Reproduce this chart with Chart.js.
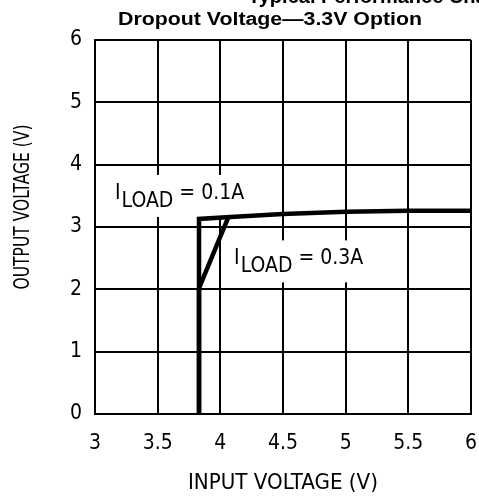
<!DOCTYPE html>
<html>
<head>
<meta charset="utf-8">
<script src="https://cdn.jsdelivr.net/npm/chart.js@4.4.1/dist/chart.umd.min.js"></script>
<style>
  html, body { margin: 0; padding: 0; background: #fff; }
  #wrap { width: 479px; height: 498px; }
</style>
</head>
<body>
<div id="wrap"><canvas id="dropoutChart" width="479" height="498"></canvas></div>
<script>
// values
var xTicks = [3, 3.5, 4, 4.5, 5, 5.5, 6];
var yTicks = [0, 1, 2, 3, 4, 5, 6];

var load01X = [3.83, 3.83, 4.08, 4.5, 5.0, 5.5, 6.0];
var load01Y = [0, 3.13, 3.16, 3.21, 3.245, 3.26, 3.26];

var load03X = [3.83, 3.83, 4.06];
var load03Y = [0, 2.02, 3.14];

var labels = [
  { x: 3.16, y: 3.45, sub: 'LOAD', rest: ' = 0.1A' },
  { x: 4.11, y: 2.4, sub: 'LOAD', rest: ' = 0.3A' }
];

var FONT = '"Liberation Sans Narrow", "DejaVu Sans Condensed", "Liberation Sans", sans-serif';

function pts(xs, ys) {
  return xs.map(function (x, i) { return { x: x, y: ys[i] }; });
}

// draw text centred at 0,0 squeezed/stretched to a given width
function fitText(c, txt, width) {
  var w = c.measureText(txt).width;
  c.scale(width / w, 1);
  c.textAlign = 'center';
  c.fillText(txt, 0, 0);
}

var extras = {
  id: 'extras',
  beforeDatasetsDraw: function (chart) {
    var c = chart.ctx, sx = chart.scales.x, sy = chart.scales.y;
    c.save();
    c.font = '21px ' + FONT;
    c.textAlign = 'left';
    c.textBaseline = 'alphabetic';
    labels.forEach(function (l) {
      var px = sx.getPixelForValue(l.x), py = sy.getPixelForValue(l.y);
      var w1 = c.measureText('I').width;
      var w2 = c.measureText(l.sub).width;
      var w3 = c.measureText(l.rest).width;
      c.fillStyle = '#fff';
      c.fillRect(px - 8, py - 24, w1 + w2 + w3 + 16, 42);
      c.fillStyle = '#000';
      c.fillText('I', px, py);
      c.fillText(l.sub, px + w1 + 1, py + 8);
      c.fillText(l.rest, px + w1 + 1 + w2, py);
    });
    c.restore();
  },
  afterDraw: function (chart) {
    var c = chart.ctx, a = chart.chartArea;
    c.fillStyle = '#000';
    c.textBaseline = 'alphabetic';
    // heading above, cut by the top edge
    c.save();
    c.textAlign = 'left';
    c.font = 'bold 20px "Liberation Sans", Arial, sans-serif';
    c.fillText('Typical Performance Characteristics', 248, 3);
    c.restore();
    // chart title
    c.save();
    c.translate(270, 25);
    c.font = 'bold 18px "Liberation Sans", Arial, sans-serif';
    fitText(c, 'Dropout Voltage\u20143.3V Option', 304);
    c.restore();
    // axis titles
    c.save();
    c.translate((a.left + a.right) / 2, 489);
    c.font = '22px ' + FONT;
    fitText(c, 'INPUT VOLTAGE (V)', 190);
    c.restore();
    c.save();
    c.translate(29, 207);
    c.rotate(-Math.PI / 2);
    c.font = '21px ' + FONT;
    fitText(c, 'OUTPUT VOLTAGE (V)', 165);
    c.restore();
  }
};

new Chart(document.getElementById('dropoutChart').getContext('2d'), {
  type: 'scatter',
  data: {
    datasets: [
      {
        label: 'ILOAD = 0.1A',
        data: pts(load01X, load01Y),
        showLine: true,
        borderColor: '#000',
        borderWidth: 4.5,
        pointRadius: 0,
        tension: 0
      },
      {
        label: 'ILOAD = 0.3A',
        data: pts(load03X, load03Y),
        showLine: true,
        borderColor: '#000',
        borderWidth: 4.5,
        pointRadius: 0,
        tension: 0
      }
    ]
  },
  options: {
    responsive: false,
    animation: false,
    layout: { padding: { left: 0, right: 8, top: 40, bottom: 0 } },
    plugins: {
      legend: { display: false },
      tooltip: { enabled: false }
    },
    scales: {
      x: {
        type: 'linear',
        min: 3,
        max: 6,
        afterFit: function (s) { s.height = 84; s.paddingLeft = 0; s.paddingRight = 0; },
        afterBuildTicks: function (s) { s.ticks = xTicks.map(function (v) { return { value: v }; }); },
        grid: { color: '#000', lineWidth: 2, drawTicks: false },
        border: { color: '#000', width: 2 },
        ticks: {
          color: '#000',
          padding: 17,
          font: { family: FONT, size: 21 },
          callback: function (v) { return String(v); }
        }
      },
      y: {
        type: 'linear',
        min: 0,
        max: 6,
        afterFit: function (s) { s.width = 95; s.paddingTop = 0; s.paddingBottom = 0; },
        afterBuildTicks: function (s) { s.ticks = yTicks.map(function (v) { return { value: v }; }); },
        grid: { color: '#000', lineWidth: 2, drawTicks: false },
        border: { color: '#000', width: 2 },
        ticks: {
          color: '#000',
          padding: 13,
          font: { family: FONT, size: 21 },
          callback: function (v) { return String(v); }
        }
      }
    }
  },
  plugins: [extras]
});
</script>
</body>
</html>
